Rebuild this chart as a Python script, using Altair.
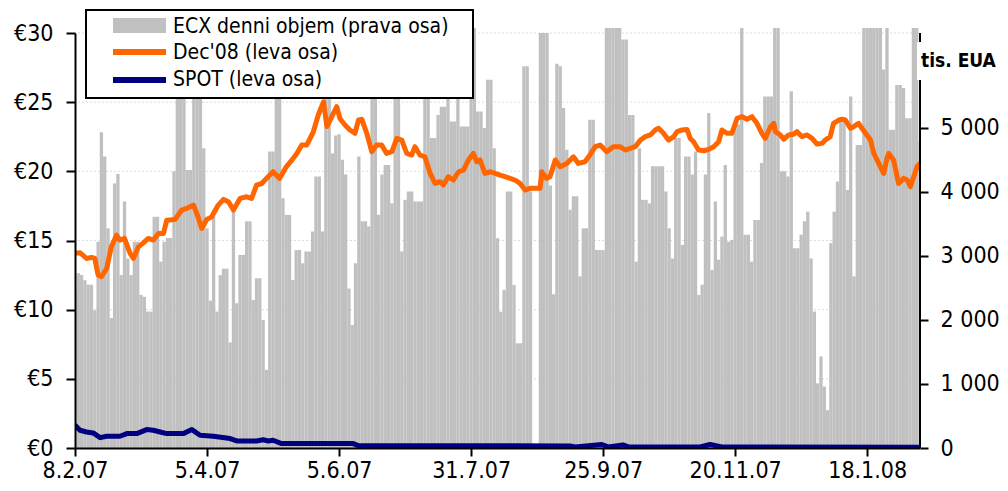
import altair as alt
import pandas as pd

# ---------------- data ----------------
# ECX daily volume, thousands EUA, one value per trading day (index 0 = 8.2.07)
volume = [
    2470, 2730, 2700, 2620, 2550, 2550, 2150, 3220, 4930, 4550,
    3430, 2030, 4130, 4280, 2700, 3850, 2960, 2700, 3220, 3220,
    2390, 2360, 2130, 2130, 3610, 3610, 2910, 3220, 3280, 3280,
    4320, 6560, 6560, 6560, 4340, 4340, 6560, 6560, 6560, 4680,
    3430, 2300, 3640, 2130, 2700, 2800, 2800, 1650, 3700, 2260,
    3015, 3015, 3540, 3540, 2310, 2650, 2650, 2000, 1220, 4630,
    4630, 6560, 6000, 3900, 3640, 3640, 2625, 3090, 3090, 2885,
    3070, 3070, 3380, 4240, 4240, 3380, 6000, 6000, 4600, 4880,
    4900, 4500, 4270, 2490, 1920, 2885, 4550, 3540, 3540, 3460,
    6560, 6560, 3640, 4270, 4420, 4420, 3820, 6560, 6560, 3070,
    3875, 4005, 4005, 3850, 3850, 3850, 5540, 5540, 4840, 4840,
    5200, 5330, 5330, 6000, 5100, 5100, 6000, 5020, 5020, 5020,
    6560, 6560, 5255, 5255, 4995, 5750, 5750, 4680, 3276, 2130,
    2470, 4005, 4005, 2546, 1635, 1635, 5960, 5960, 4005, 0,
    0, 6480, 6480, 6480, 4100, 2400, 6000, 5960, 5310, 4656,
    3720, 3930, 3930, 2680, 3430, 3430, 5125, 5125, 3090, 3090,
    3090, 6560, 6560, 6560, 6560, 6560, 6380, 6380, 5200, 5200,
    2910, 4680, 3875, 3875, 3820, 4400, 4400, 4400, 4400, 4005,
    3430, 2960, 4840, 4840, 3170, 4550, 4550, 4270, 4630, 2390,
    2550, 4270, 5230, 2780, 3850, 2940, 3300, 4420, 3220, 3250,
    5050, 5050, 6560, 3330, 3330, 2910, 3560, 3560, 4450, 5490,
    5490, 5490, 6560, 6560, 4320, 4320, 4240, 5570, 3120, 3120,
    3330, 3540, 3690, 2960, 2130, 1010, 1430, 960, 590, 3200,
    3690, 4160, 5150, 5150, 4030, 5490, 2680, 4730, 4730, 6560,
    6560, 6560, 6560, 6560, 6560, 5910, 6560, 4970, 4970, 5670,
    5670, 5620, 5150, 5150, 6560, 6560, 4790,
]

# Dec'08 futures price (EUR), sampled along the curve (trading-day index, price)
dec_day = [0, 1.5, 3.5, 5, 6, 7, 8, 9.6, 11, 12.6, 13.6, 15, 16.7, 17.7, 19.2, 20.7,
           22.2, 23.7, 25.3, 26.8, 27.8, 30.3, 32.3, 33.8, 35.9, 36.9, 38.4, 39.9,
           41.4, 43.4, 45, 46.5, 48, 50, 52, 53.5, 55, 56.6, 58, 60, 62, 64, 65.7,
           67.2, 68.7, 70.2, 72.2, 73.7, 75.3, 76.3, 77.8, 79.3, 80.3, 81.8, 83.3,
           84.8, 85.9, 86.9, 88.4, 89.9, 91.4, 92.9, 94.4, 96, 97.5, 99, 100.5, 102,
           103, 104.5, 106, 107.6, 109.1, 110.6, 111.6, 113.1, 114.6, 116.2, 117.7,
           119.2, 120.7, 121.7, 122.7, 124.2, 125.8, 127.3, 128.8, 130.3, 131.8,
           133.3, 134.8, 136.4, 137.9, 140.9, 141.4, 142.9, 143.9, 145.5, 147, 149,
           151, 152.5, 154.5, 156, 157.6, 159.1, 161.1, 163.1, 165.2, 166.7, 168.2,
           169.7, 171.3, 172.8, 174.3, 175.8, 176.8, 178.3, 179.8, 181.4, 182.4,
           183.9, 185.4, 186.4, 187.4, 188.9, 190.5, 192, 193.5, 195, 196, 197.5,
           199, 200.6, 202.1, 203.6, 205.1, 206.6, 208.1, 209.1, 210.7, 211.7,
           212.2, 213.7, 214.7, 216.2, 217.7, 218.7, 220.2, 221.8, 223.3, 224.8,
           226.3, 227.3, 228.8, 229.8, 231.4, 232.4, 233.4, 234.9, 235.9, 237.4,
           238.4, 239.9, 241, 242, 243.5, 245, 246, 246.5, 248, 249.5, 251, 252.1,
           253.1, 254.1, 255.1, 256]
dec_price = [14.07, 14.12, 13.70, 13.78, 13.70, 12.50, 12.38, 12.98, 14.54, 15.39,
             15.03, 15.15, 14.07, 13.70, 14.54, 14.83, 15.15, 15.03, 15.51, 15.51,
             16.47, 16.52, 17.20, 17.32, 17.56, 16.96, 15.87, 16.52, 16.71, 17.56,
             17.97, 17.80, 17.20, 18.04, 18.16, 18.04, 19.00, 19.12, 19.49, 19.97,
             19.49, 20.33, 20.81, 21.29, 21.90, 21.90, 22.86, 24.07, 25.03, 23.24,
             23.95, 24.67, 23.80, 23.35, 22.99, 22.75, 23.72, 23.76, 22.75, 21.42,
             21.90, 21.90, 21.30, 21.42, 22.38, 22.26, 21.30, 21.18, 21.78, 21.18,
             21.05, 19.85, 19.13, 19.25, 19.01, 19.61, 19.37, 19.97, 20.09, 20.82,
             21.30, 20.69, 20.82, 19.85, 19.97, 19.85, 19.73, 19.61, 19.49, 19.37,
             19.13, 18.65, 18.77, 18.77, 19.97, 19.49, 19.61, 20.82, 20.33, 20.57,
             21.05, 20.57, 20.69, 21.18, 21.78, 21.90, 21.42, 21.78, 21.78, 21.54,
             21.66, 21.78, 22.26, 22.51, 22.63, 22.99, 23.11, 22.75, 22.26, 22.51,
             22.87, 22.99, 23.03, 22.38, 22.14, 21.54, 21.49, 21.59, 21.78, 22.14,
             22.99, 22.75, 22.75, 23.83, 23.95, 23.76, 23.95, 23.47, 22.75, 22.38,
             23.23, 23.47, 22.87, 22.63, 22.32, 22.63, 22.68, 22.87, 22.51, 22.63,
             22.38, 21.97, 22.02, 22.26, 22.51, 23.47, 23.71, 23.76, 23.71, 23.11,
             23.23, 23.47, 23.11, 22.63, 22.26, 21.30, 20.57, 19.85, 20.94, 21.30,
             20.82, 19.13, 19.49, 19.37, 18.89, 19.61, 20.33, 20.57]

# SPOT price (EUR), sampled along the curve
spot_day = [0, 1.5, 3.5, 5.5, 7.6, 9.6, 13.6, 15.7, 18.7, 21.7, 23.7, 25.8, 27.8,
            32.8, 35.4, 37.9, 41.9, 47, 49, 55, 57, 58.6, 60, 62.6, 84.3, 85.8,
            150, 151.5, 159.6, 161.5, 166, 167.6, 189.4, 192.4, 196, 256]
spot_price = [1.64, 1.28, 1.16, 1.09, 0.75, 0.85, 0.85, 1.04, 1.04, 1.33, 1.28,
              1.16, 1.04, 1.04, 1.33, 0.92, 0.85, 0.68, 0.51, 0.51, 0.60, 0.51,
              0.56, 0.32, 0.32, 0.17, 0.15, 0.08, 0.25, 0.08, 0.22, 0.08, 0.08,
              0.25, 0.08, 0.05]

date_labels = ["8.2.07", "5.4.07", "5.6.07", "31.7.07", "25.9.07", "20.11.07", "18.1.08"]
label_days = [0, 40, 80, 120, 160, 200, 240]
price_ticks = [0, 5, 10, 15, 20, 25, 30]
volume_ticks = [0, 1000, 2000, 3000, 4000, 5000]
series_names = ["Dec'08", "SPOT"]
legend_labels = ["ECX denni objem (prava osa)", "Dec'08 (leva osa)", "SPOT (leva osa)"]
unit_label = "tis. EUA"

# ---------------- tables ----------------
N = len(volume)
bars = pd.DataFrame({"i": list(range(N)), "vol": volume})
lines = pd.DataFrame({
    "i": dec_day + spot_day,
    "price": dec_price + spot_price,
    "series": [series_names[0]] * len(dec_day) + [series_names[1]] * len(spot_day),
})
grid = pd.DataFrame({"g": price_ticks[1:]})
one = pd.DataFrame({"a": [0]})

FONT = "DejaVu Sans Condensed, DejaVu Sans"
W, H = 845, 415
GRAY = "#c0c0c0"
ORANGE = "#ff6600"
NAVY = "#000080"

xscale = alt.Scale(domain=[0, N - 1], nice=False, zero=False)
label_array = "[" + ",".join("'" + d + "'" for d in date_labels) + "]"


def make_xaxis():
    return alt.Axis(orient="bottom", values=label_days,
                    labelExpr=label_array + "[round(datum.value/40)]",
                    title=None, grid=False, domain=True, ticks=True, labels=True,
                    domainColor="black", domainWidth=2,
                    tickColor="black", tickWidth=2, tickSize=8, labelFont=FONT,
                    labelFontSize=23, labelColor="black", labelPadding=3, zindex=1,
                    labelOverlap=False, labelFlush=False)


left_axis = alt.Axis(orient="left", values=price_ticks, labelExpr="'€' + datum.value",
                     title=None, grid=False, ticks=True, domainColor="black", domainWidth=2,
                     tickColor="black", tickWidth=2, tickSize=9, labelFont=FONT,
                     labelFontSize=23, labelColor="black", labelPadding=13, zindex=1)
right_axis = alt.Axis(orient="right", values=volume_ticks,
                      labelExpr="datum.value == 0 ? '0' : (datum.value/1000) + ' 000'",
                      title=None, grid=False, domain=False, ticks=True,
                      tickColor="black", tickWidth=2, tickSize=8, labelFont=FONT,
                      labelFontSize=23, labelColor="black", labelPadding=12, zindex=1)

price_scale = alt.Scale(domain=[0, 30], nice=False, zero=True)
vol_scale = alt.Scale(domain=[0, 6480], nice=False, zero=True)

gridlines = alt.Chart(grid).mark_rule(color="#dcdcdc", strokeWidth=1, strokeDash=[2, 2]).encode(
    y=alt.Y("g:Q", scale=price_scale, axis=None)
)

bar_layer = alt.Chart(bars).transform_calculate(
    x0="max(datum.i - 0.5, 0)", x1="min(datum.i + 0.5, %d)" % (N - 1)
).mark_rect(color=GRAY).encode(
    x=alt.X("x0:Q", scale=xscale, axis=make_xaxis()),
    x2="x1:Q",
    y=alt.Y("vol:Q", scale=vol_scale, axis=right_axis),
    y2=alt.datum(0),
)

line_layer = alt.Chart(lines).mark_line(strokeWidth=5, strokeJoin="round", strokeCap="round", clip=True).encode(
    x=alt.X("i:Q", scale=xscale, axis=make_xaxis()),
    y=alt.Y("price:Q", scale=price_scale, axis=left_axis),
    color=alt.Color("series:N", scale=alt.Scale(domain=series_names, range=[ORANGE, NAVY]), legend=None),
)

# right axis line (drawn as marks so the unit label box can interrupt it)
rdom1 = alt.Chart(one).mark_rule(color="black", strokeWidth=2).encode(
    x=alt.value(W), y=alt.value(0), y2=alt.value(9))
rdom2 = alt.Chart(one).mark_rule(color="black", strokeWidth=2).encode(
    x=alt.value(W), y=alt.value(47), y2=alt.value(H))

# legend box
lbox = alt.Chart(one).mark_rect(fill="white", stroke="black", strokeWidth=2).encode(
    x=alt.value(11), x2=alt.value(398), y=alt.value(-23), y2=alt.value(65))
sw1 = alt.Chart(one).mark_rect(fill=GRAY).encode(
    x=alt.value(38), x2=alt.value(91), y=alt.value(-15), y2=alt.value(0))
sw2 = alt.Chart(one).mark_rule(color=ORANGE, strokeWidth=6).encode(
    x=alt.value(38), x2=alt.value(91), y=alt.value(19))
sw3 = alt.Chart(one).mark_rule(color=NAVY, strokeWidth=6).encode(
    x=alt.value(38), x2=alt.value(91), y=alt.value(47))


def ltext(txt, yy):
    return alt.Chart(one).mark_text(text=txt, align="left", baseline="middle", font=FONT,
                                    fontSize=21, color="black").encode(
        x=alt.value(98), y=alt.value(yy))


t1 = ltext(legend_labels[0], -6)
t2 = ltext(legend_labels[1], 20)
t3 = ltext(legend_labels[2], 47)

ubox = alt.Chart(one).mark_rect(fill="white").encode(
    x=alt.value(842), x2=alt.value(925), y=alt.value(9), y2=alt.value(47))
utext = alt.Chart(one).mark_text(text=unit_label, align="left", baseline="middle", font=FONT,
                                 fontSize=19, fontWeight="bold", color="black").encode(
    x=alt.value(846), y=alt.value(28))

chart = alt.layer(
    gridlines, bar_layer, line_layer, rdom1, rdom2, lbox, sw1, sw2, sw3, t1, t2, t3, ubox, utext
).resolve_scale(y="independent").properties(
    width=W, height=H,
    autosize=alt.AutoSizeParams(type="none"),
    padding={"left": 67, "top": 25, "right": 80, "bottom": 35},
    background="white",
).configure_view(stroke=None)

chart.save("out.html", embed_options={"renderer": "svg", "actions": False})
